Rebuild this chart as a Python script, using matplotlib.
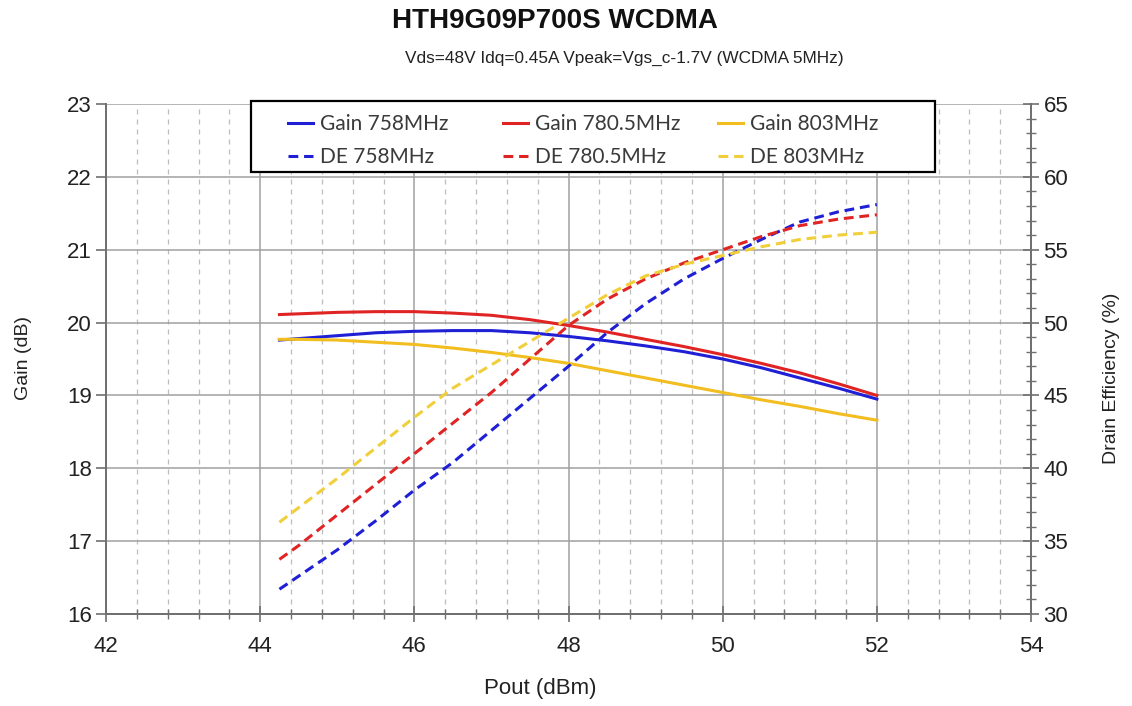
import matplotlib
matplotlib.use("Agg")
import matplotlib.pyplot as plt
from matplotlib.ticker import MultipleLocator
from matplotlib.patches import Rectangle

# ---- data ----
pout = [44.25, 44.5, 45.0, 45.5, 46.0, 46.5, 47.0, 47.5, 48.0, 48.5, 49.0, 49.5, 50.0, 50.5, 51.0, 51.5, 52.0]

gain_758 = [19.76, 19.78, 19.82, 19.86, 19.88, 19.89, 19.89, 19.86, 19.81, 19.75, 19.68, 19.60, 19.50, 19.38, 19.24, 19.10, 18.95]
gain_780 = [20.11, 20.12, 20.14, 20.15, 20.15, 20.13, 20.10, 20.04, 19.96, 19.87, 19.77, 19.67, 19.56, 19.44, 19.31, 19.16, 19.00]
gain_803 = [19.77, 19.77, 19.76, 19.73, 19.70, 19.65, 19.59, 19.52, 19.44, 19.34, 19.24, 19.14, 19.04, 18.94, 18.85, 18.75, 18.66]

de_758 = [31.7, 32.6, 34.4, 36.4, 38.5, 40.4, 42.6, 44.8, 47.0, 49.3, 51.3, 53.0, 54.4, 55.7, 56.9, 57.6, 58.1]
de_780 = [33.75, 34.7, 36.8, 38.9, 41.0, 43.1, 45.2, 47.5, 49.8, 51.6, 53.0, 54.1, 55.0, 55.9, 56.65, 57.1, 57.4]
de_803 = [36.3, 37.3, 39.3, 41.4, 43.5, 45.5, 47.1, 48.7, 50.3, 51.9, 53.2, 54.0, 54.6, 55.2, 55.7, 56.0, 56.2]

labels_gain = ["Gain 758MHz", "Gain 780.5MHz", "Gain 803MHz"]
labels_de = ["DE 758MHz", "DE 780.5MHz", "DE 803MHz"]

title = "HTH9G09P700S WCDMA"
subtitle = "Vds=48V Idq=0.45A Vpeak=Vgs_c-1.7V (WCDMA 5MHz)"

# ---- styling ----
c_blue = "#1f1fd6"
c_red = "#e02424"
c_yel = "#f2bd1f"
c_yel_d = "#f0cf3a"
font = "Liberation Sans"
W, H = 1132, 706

fig = plt.figure(figsize=(W / 100, H / 100), dpi=100)
ax = fig.add_axes([106 / W, 1 - 614 / H, (1031 - 106) / W, (614 - 104) / H])
ax2 = ax.twinx()

ax.set_xlim(42, 54)
ax.set_ylim(16, 23)
ax2.set_ylim(30, 65)

ax.xaxis.set_major_locator(MultipleLocator(2))
ax.xaxis.set_minor_locator(MultipleLocator(0.4))
ax.yaxis.set_major_locator(MultipleLocator(1))
ax2.yaxis.set_major_locator(MultipleLocator(5))
ax2.yaxis.set_minor_locator(MultipleLocator(1))

ax.grid(which="major", axis="both", color="#a0a0a0", lw=1.1, ls="-")
ax.grid(which="minor", axis="x", color="#bdbdbd", lw=0.9, ls=(0, (4, 4)))
ax.set_axisbelow(True)

for a in (ax, ax2):
    for s in a.spines.values():
        s.set_color("#707070")
        s.set_linewidth(1.3)
    a.spines["top"].set_visible(False)

ax.tick_params(axis="x", which="major", direction="inout", length=12, width=1.2, color="#707070",
               labelsize=16, pad=10)
ax.tick_params(axis="x", which="minor", direction="inout", length=7, width=1.0, color="#707070")
ax.tick_params(axis="y", which="major", direction="out", length=7, width=1.2, color="#707070",
               labelsize=16, pad=3)
ax2.tick_params(axis="y", which="major", direction="inout", length=12, width=1.2, color="#707070",
                labelsize=16, pad=3)
ax2.tick_params(axis="y", which="minor", direction="inout", length=7, width=1.0, color="#707070")

for lab in ax.get_xticklabels() + ax.get_yticklabels() + ax2.get_yticklabels():
    lab.set_fontfamily(font)
    lab.set_color("#222222")

lw = 2.2
dash = (0, (3.2, 1.9))
h1, = ax.plot(pout, gain_758, color=c_blue, lw=lw, label=labels_gain[0])
h3, = ax.plot(pout, gain_780, color=c_red, lw=lw, label=labels_gain[1])
h5, = ax.plot(pout, gain_803, color=c_yel, lw=lw, label=labels_gain[2])
h2, = ax2.plot(pout, de_758, color=c_blue, lw=lw, ls=dash, label=labels_de[0])
h4, = ax2.plot(pout, de_780, color=c_red, lw=lw, ls=dash, label=labels_de[1])
h6, = ax2.plot(pout, de_803, color=c_yel_d, lw=lw, ls=dash, label=labels_de[2])

ax.set_xlabel("Pout (dBm)", fontsize=16, family=font, color="#222222")
ax.xaxis.set_label_coords(540 / W, 1 - 678 / H, transform=fig.transFigure)
ax.set_ylabel("Gain (dB)", fontsize=14, family=font, color="#222222")
ax.yaxis.set_label_coords(32 / W, 1 - 358 / H, transform=fig.transFigure)
ax2.set_ylabel("Drain Efficiency (%)", fontsize=14, family=font, color="#222222")
ax2.yaxis.set_label_coords(1103 / W, 1 - 378 / H, transform=fig.transFigure)

# legend box (white, black frame) and three legend columns
fig.add_artist(Rectangle((251 / W, 1 - 172 / H), (935 - 251) / W, (172 - 101) / H,
                         transform=fig.transFigure, facecolor="white", edgecolor="black",
                         lw=1.6, zorder=3))
col_x = [288, 503, 718]
pairs = [(h1, h2), (h3, h4), (h5, h6)]
for x0, (hg, hd) in zip(col_x, pairs):
    lg = fig.legend(handles=[hg, hd], loc="upper left",
                    bbox_to_anchor=(x0 / W, 1 - 114 / H), bbox_transform=fig.transFigure,
                    prop={"family": "Lato", "size": 15}, frameon=False,
                    handlelength=1.2, handletextpad=0.35, borderpad=0, borderaxespad=0,
                    labelspacing=0.62)
    lg.set_zorder(4)
    for t in lg.get_texts():
        t.set_color("#3a3a3a")

fig.text(555 / W, 1 - 21 / H, title, ha="center", va="center", fontsize=20, fontweight="bold",
         family=font, color="#111111")
fig.text(624 / W, 1 - 58 / H, subtitle, ha="center", va="center", fontsize=12.4,
         family=font, color="#222222")

fig.savefig("out.png", dpi=100)
